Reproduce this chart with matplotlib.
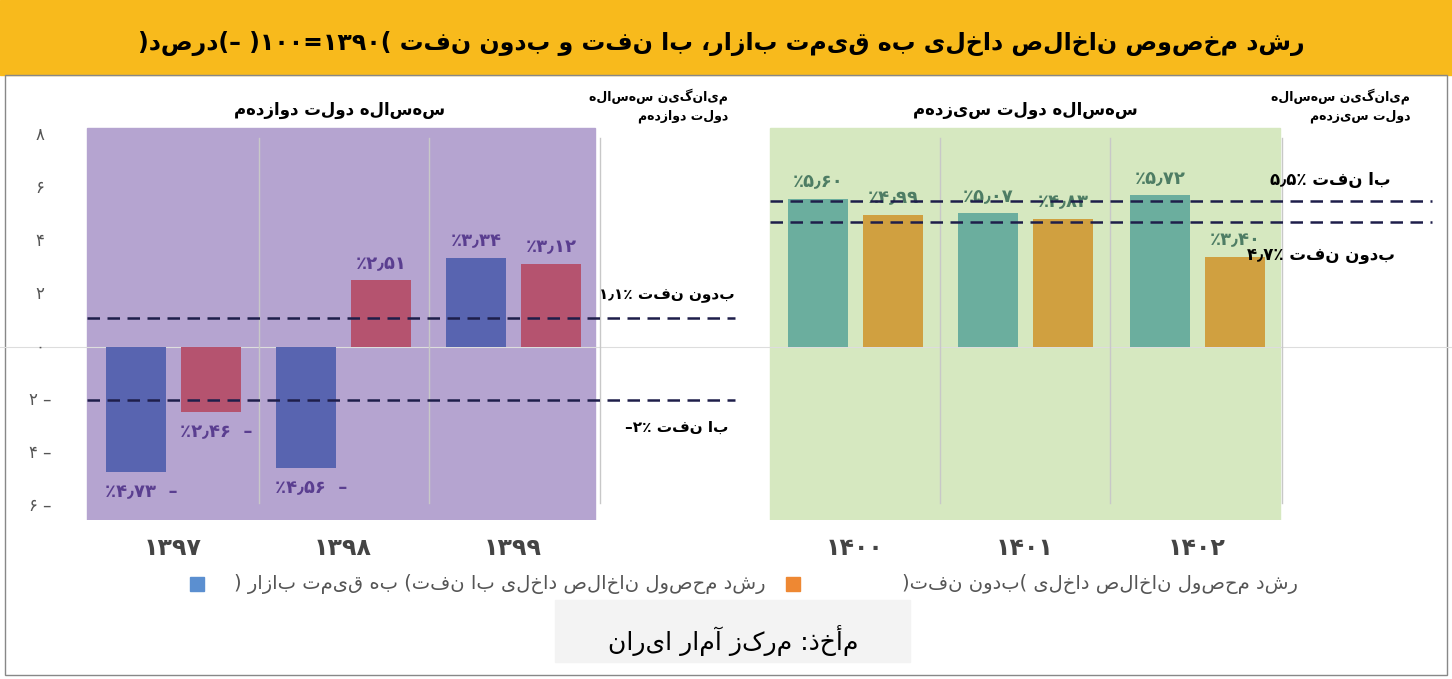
import re
import matplotlib
matplotlib.use("Agg")
import matplotlib.pyplot as plt
from matplotlib.patches import Rectangle

plt.rcParams["font.family"] = "DejaVu Sans"

def fa(s):
    toks = re.findall(r'[۰-۹0-9٫,.=]+|.', s)
    return "".join(toks[::-1])

def pdig(v):
    s = f"{abs(v):.2f}".replace(".", "٫")
    return s.translate(str.maketrans("0123456789", "۰۱۲۳۴۵۶۷۸۹"))

years = ["۱۳۹۷", "۱۳۹۸", "۱۳۹۹", "۱۴۰۰", "۱۴۰۱", "۱۴۰۲"]
with_oil = [-4.73, -4.56, 3.34, 5.60, 5.07, 5.72]
without_oil = [-2.46, 2.51, 3.12, 4.99, 4.83, 3.40]
avg12_with, avg12_without = -2.0, 1.1
avg13_with, avg13_without = 5.5, 4.7
yticks = [8, 6, 4, 2, 0, -2, -4, -6]
ytick_labels = ["۸", "۶", "۴", "۲", "۰", "۲ –", "۴ –", "۶ –"]

W, H = 1452, 679
fig = plt.figure(figsize=(W/100, H/100), dpi=100)
# pixel-space overlay
ov = fig.add_axes([0, 0, 1, 1]); ov.set_xlim(0, W); ov.set_ylim(H, 0); ov.axis("off")
ov.add_patch(Rectangle((0, 0), W, 75, color="#F8BA1C"))
ov.add_patch(Rectangle((5, 75), W-10, 600, fill=False, ec="#888888", lw=1))
ov.text(1305, 44, fa("رشد مخصوص ناخالص داخلی به قیمت بازار، با نفت و بدون نفت (۱۰۰=۱۳۹۰) –(درصد)"),
        ha="right", va="center", fontsize=17, fontweight="bold")

top, bot = 85, 520
zero, unit = 347, 26.5
ax = fig.add_axes([0, 1-bot/H, 1, (bot-top)/H])
ax.set_xlim(0, W)
ax.set_ylim(-(bot-zero)/unit, (zero-top)/unit)
ax.axis("off")
ylo, yhi = -(bot-zero)/unit, (zero-128)/unit
ax.add_patch(Rectangle((87, ylo), 508, yhi-ylo, color="#B5A4D0", zorder=0))
ax.add_patch(Rectangle((770, ylo), 510, yhi-ylo, color="#D6E8C0", zorder=0))
ax.axhline(0, color="#dddddd", lw=0.8, zorder=0)
for x in [259, 429, 600, 940, 1110, 1282]:
    ax.plot([x, x], [-5.9, 7.9], color="#c8c8c8", lw=1, zorder=1)

centers = [173, 343, 513, 855, 1025, 1197]
bw = 60
for i, c in enumerate(centers):
    old = i < 3
    c1, c2 = ("#5864B0", "#B5536F") if old else ("#6BAE9E", "#D0A040")
    lc = "#5A3E90" if old else "#4E7D64"
    for v, xx, col in [(with_oil[i], c-37, c1), (without_oil[i], c+38, c2)]:
        ax.bar(xx, v, width=bw, color=col, zorder=2)
        txt = "٪" + pdig(v)
        if v < 0:
            ax.text(xx+5, v-0.4, txt + "  –", ha="center", va="top", fontsize=13, fontweight="bold", color=lc)
        else:
            ax.text(xx, v+0.3, txt, ha="center", va="bottom", fontsize=13, fontweight="bold", color=lc)
    ax.text(c, -7.6, years[i], ha="center", va="center", fontsize=17, fontweight="bold", color="#444444", clip_on=False)

for y, lab in zip(yticks, ytick_labels):
    ax.text(40, y, lab, ha="center", va="center", fontsize=12, color="#555555")

for y in [avg12_with, avg12_without]:
    ax.plot([87, 735], [y, y], ls="--", color="#1E1E4A", lw=1.8, zorder=3, dashes=(5, 3))
for y in [avg13_with, avg13_without]:
    ax.plot([770, 1432], [y, y], ls="--", color="#1E1E4A", lw=1.8, zorder=3, dashes=(5, 3))

ax.text(340, 8.75, fa("سه‌ساله دولت دوازدهم"), ha="center", fontsize=12, fontweight="bold")
ax.text(1025, 8.75, fa("سه‌ساله دولت سیزدهم"), ha="center", fontsize=12, fontweight="bold")
ax.text(728, 9.3, fa("میانگین سه‌ساله"), ha="right", fontsize=9, fontweight="bold")
ax.text(728, 8.6, fa("دولت دوازدهم"), ha="right", fontsize=9, fontweight="bold")
ax.text(1410, 9.3, fa("میانگین سه‌ساله"), ha="right", fontsize=9, fontweight="bold")
ax.text(1410, 8.6, fa("دولت سیزدهم"), ha="right", fontsize=9, fontweight="bold")
ax.text(735, 1.8, fa("بدون نفت ٪۱٫۱"), ha="right", fontsize=11, fontweight="bold")
ax.text(728, -3.2, fa("با نفت ٪۲–"), ha="right", fontsize=11, fontweight="bold")
ax.text(1390, 6.1, fa("با نفت ٪۵٫۵"), ha="right", fontsize=12, fontweight="bold")
ax.text(1395, 3.3, fa("بدون نفت ٪۴٫۷"), ha="right", fontsize=12, fontweight="bold")

ov.add_patch(Rectangle((190, 577), 14, 14, color="#5B8FD0"))
ov.text(765, 584, fa("رشد محصول ناخالص داخلی با نفت( به قیمت بازار )"), ha="right", va="center", fontsize=14, color="#555555")
ov.add_patch(Rectangle((786, 577), 14, 14, color="#EE8833"))
ov.text(1298, 584, fa("رشد محصول ناخالص داخلی (بدون نفت)"), ha="right", va="center", fontsize=14, color="#555555")
ov.add_patch(Rectangle((555, 600), 355, 62, color="#F3F3F3", zorder=0))
ov.text(733, 640, fa("مأخذ: مرکز آمار ایران"), ha="center", va="center", fontsize=18)

fig.savefig("out.png", dpi=100)
